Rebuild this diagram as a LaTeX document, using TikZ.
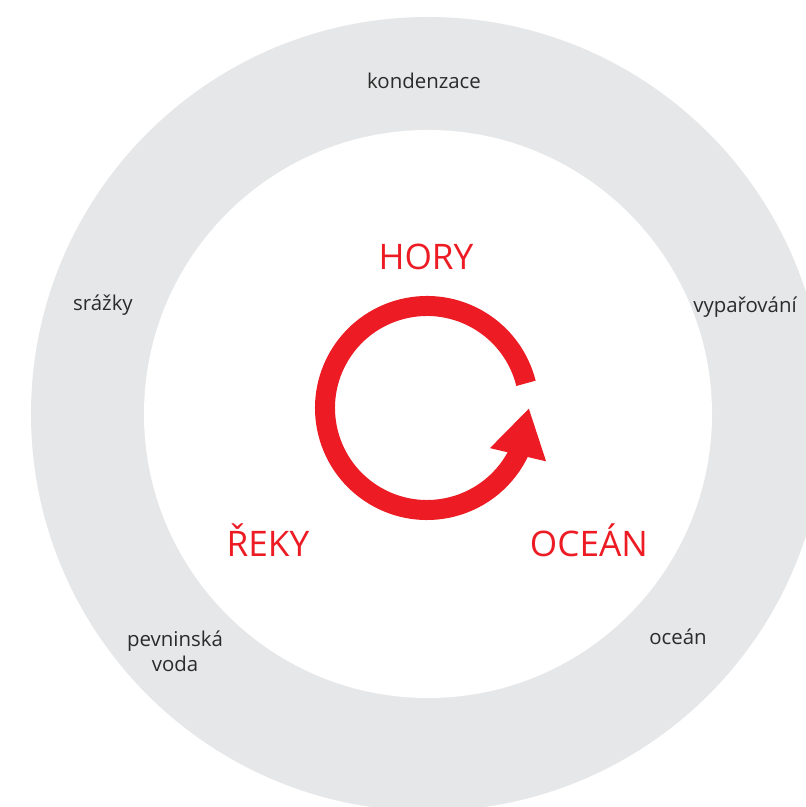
\documentclass[tikz,border=0pt]{standalone}
\usepackage{fontspec}
\setmainfont{Open Sans}
\usepackage{tikz}
\usetikzlibrary{arrows.meta,bending}

\definecolor{ringgray}{HTML}{E6E7E8}
\definecolor{cyclered}{HTML}{ED1C24}
\definecolor{textgray}{HTML}{2B2B2B}

\begin{document}
\begin{tikzpicture}[
  x=0.5pt, y=0.5pt,
  process/.style={font=\fontsize{10.2}{12.5}\selectfont, text=textgray, align=center, inner sep=0pt},
  place/.style={font=\fontsize{17.6}{20}\selectfont, text=cyclered, inner sep=0pt},
  loop/.style={draw=cyclered, line width=10pt, line cap=butt, -{Triangle[length=24pt, width=27pt]}},
]
  \useasboundingbox (-428,-393) rectangle (377,414);

  % Ring of processes
  \coordinate (mid) at (0,0);
  \fill[ringgray] (mid) circle[radius=397];
  \fill[white] (mid) circle[radius=284];

  \node[process] (kond) at (-4,333) {kondenzace};
  \node[process] (sraz) at (-325,109) {srážky};
  \node[process] (vypar) at (317,107) {vypařování};
  \node[process] (pevn) at (-253,-237) {pevninská\\voda};
  \node[process] (ocean) at (250,-223) {oceán};

  % Inner places
  \node[place] (hory) at (-2,157) {HORY};
  \node[place] (reky) at (-160,-126) {ŘEKY};
  \node[place] (oceanbig) at (161,-126) {OCEÁN};

  % Cycle arrow
  \coordinate (cyc) at (-1,6);
  \draw[loop] (cyc) ++(14:102) arc[start angle=14, end angle=360, radius=102];
\end{tikzpicture}
\end{document}
